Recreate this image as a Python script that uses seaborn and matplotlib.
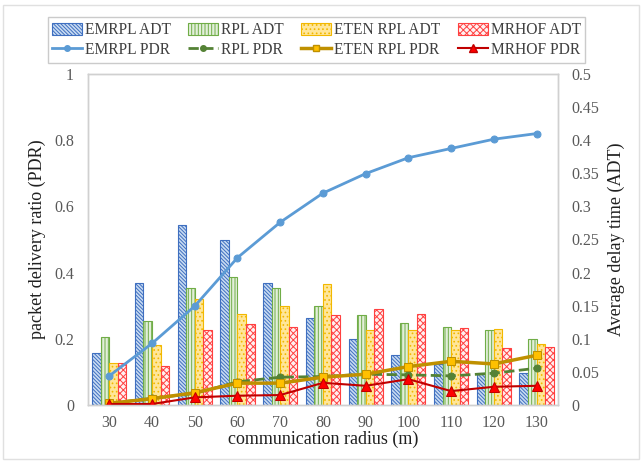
import numpy as np
import pandas as pd
import matplotlib
matplotlib.use('Agg')
import matplotlib.pyplot as plt
import seaborn as sns
from matplotlib.patches import Patch, Rectangle
from matplotlib.lines import Line2D

# Data
radius = ['30', '40', '50', '60', '70', '80', '90', '100', '110', '120', '130']
protocols = ['EMRPL', 'RPL', 'ETEN RPL', 'MRHOF']

# Average delay time (right axis, bars)
emrpl_adt = [0.078, 0.184, 0.272, 0.249, 0.184, 0.132, 0.100, 0.076, 0.062, 0.048, 0.048]
rpl_adt = [0.103, 0.127, 0.176, 0.193, 0.176, 0.149, 0.136, 0.124, 0.118, 0.113, 0.099]
eten_adt = [0.063, 0.090, 0.160, 0.137, 0.149, 0.183, 0.114, 0.114, 0.114, 0.115, 0.092]
mrhof_adt = [0.063, 0.059, 0.114, 0.122, 0.118, 0.136, 0.145, 0.137, 0.116, 0.086, 0.088]

# Packet delivery ratio (left axis, lines)
emrpl_pdr = [0.088, 0.186, 0.299, 0.445, 0.552, 0.640, 0.699, 0.747, 0.775, 0.803, 0.820]
rpl_pdr = [0.005, 0.020, 0.035, 0.070, 0.084, 0.086, 0.093, 0.091, 0.088, 0.096, 0.111]
eten_pdr = [0.005, 0.019, 0.037, 0.066, 0.066, 0.084, 0.093, 0.116, 0.132, 0.124, 0.150]
mrhof_pdr = [0.003, 0.003, 0.023, 0.028, 0.030, 0.067, 0.058, 0.078, 0.042, 0.055, 0.058]

# Long-form table for the bars
adt = pd.DataFrame({
    'radius': radius * 4,
    'protocol': np.repeat(protocols, len(radius)),
    'adt': emrpl_adt + rpl_adt + eten_adt + mrhof_adt,
})

plt.rcParams['font.family'] = ['Liberation Serif', 'DejaVu Serif']
plt.rcParams['hatch.linewidth'] = 0.7

bar_face = ['#C9DCF2', '#E2EFDA', '#FFE699', '#FFF0F0']
bar_edge = ['#3F6FC0', '#70AD47', '#F2B800', '#FF4040']
hatches = ['\\\\\\\\\\\\\\\\\\', '|||||', '....', 'xxxxx']

fig = plt.figure(figsize=(6.42, 4.61), dpi=100)
ax = fig.add_axes([0.137, 0.1215, 0.732, 0.718])
ax2 = ax.twinx()

sns.barplot(data=adt, x='radius', y='adt', hue='protocol', order=radius,
            hue_order=protocols, width=0.8, ax=ax2, legend=False,
            palette=bar_face, saturation=1)
for cont, fc, ec, h in zip(ax2.containers, bar_face, bar_edge, hatches):
    for bar in cont:
        bar.set_facecolor(fc)
        bar.set_edgecolor(ec)
        bar.set_hatch(h)
        bar.set_linewidth(0.8)

xpos = np.arange(len(radius))
line_specs = [
    (emrpl_pdr, '#5B9BD5', '-', 'o', '#5B9BD5', '#5B9BD5', 2.0, 5),
    (rpl_pdr, '#548235', '--', 'o', '#548235', '#548235', 2.0, 5),
    (eten_pdr, '#BF9000', '-', 's', '#FFC000', '#BF9000', 2.5, 6),
    (mrhof_pdr, '#C00000', '-', '^', '#FF0000', '#C00000', 1.5, 7),
]
for vals, col, ls, mk, mfc, mec, lw, ms in line_specs:
    sns.lineplot(x=xpos, y=vals, color=col, linestyle=ls, marker=mk,
                 markerfacecolor=mfc, markeredgecolor=mec, markersize=ms,
                 linewidth=lw, ax=ax, legend=False)

# draw lines over bars
ax.set_zorder(ax2.get_zorder() + 1)
ax.patch.set_visible(False)

ax.set_xlim(-0.5, len(radius) - 0.5)
ax.set_ylim(0, 1)
ax2.set_ylim(0, 0.5)
ax.set_yticks([0, 0.2, 0.4, 0.6, 0.8, 1])
ax.set_yticklabels(['0', '0.2', '0.4', '0.6', '0.8', '1'])
ax2.set_yticks(np.arange(0, 0.51, 0.05))
ax2.set_yticklabels(['0', '0.05', '0.1', '0.15', '0.2', '0.25', '0.3',
                     '0.35', '0.4', '0.45', '0.5'])
ax.set_xticks(xpos)
ax.set_xticklabels(radius)

tick_col = '#595959'
for a in (ax, ax2):
    a.tick_params(length=0, labelsize=11.5, colors=tick_col, pad=10)
    for s in a.spines.values():
        s.set_color('#D0D0D0')
        s.set_linewidth(1)
ax.tick_params(axis='x', pad=7)

ax.set_xlabel('communication radius (m)', fontsize=13, color='#202020', labelpad=0)
ax.set_ylabel('packet delivery ratio (PDR)', fontsize=13, color='#202020', labelpad=6)
ax2.set_ylabel('Average delay time (ADT)', fontsize=13, color='#202020', labelpad=6)

handles = []
for p, fc, ec, h, spec in zip(protocols, bar_face, bar_edge, hatches, line_specs):
    handles.append(Patch(facecolor=fc, edgecolor=ec, hatch=h, linewidth=0.8,
                         label=p + ' ADT'))
    vals, col, ls, mk, mfc, mec, lw, ms = spec
    handles.append(Line2D([], [], color=col, linestyle=ls, marker=mk,
                          markerfacecolor=mfc, markeredgecolor=mec,
                          markersize=ms - 1, linewidth=lw, label=p + ' PDR'))
leg = fig.legend(handles=handles, ncol=4, loc='upper left',
                 bbox_to_anchor=(0.062, 0.879, 0.862, 0.1), mode='expand',
                 fontsize=11.2, frameon=True, fancybox=False, edgecolor='#BFBFBF',
                 handlelength=1.9, handleheight=0.8, handletextpad=0.2,
                 columnspacing=0.6, labelspacing=0.25, borderpad=0.3)
for t in leg.get_texts():
    t.set_color('#404040')

fig.patches.append(Rectangle((0.004, 0.004), 0.992, 0.985, transform=fig.transFigure,
                             fill=False, edgecolor='#E0E0E0', linewidth=1))

fig.savefig('out.png', dpi=100)
